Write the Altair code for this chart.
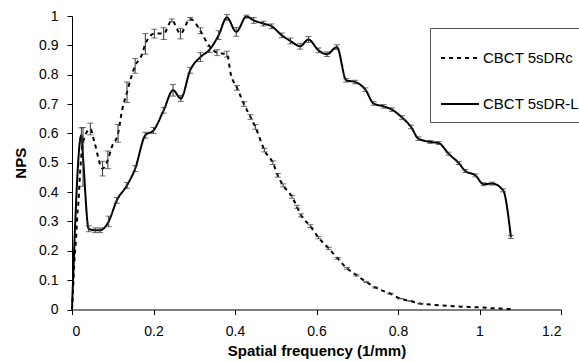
import altair as alt
import pandas as pd

# CBCT 5sDRc (dashed)
drc_f = [0, 0.003, 0.006, 0.01, 0.013, 0.016, 0.02, 0.028, 0.045, 0.055, 0.075, 0.088, 0.098,
         0.113, 0.123, 0.135, 0.145, 0.155, 0.172, 0.18, 0.202, 0.225, 0.245, 0.266, 0.29,
         0.315, 0.331, 0.356, 0.38, 0.39, 0.405, 0.422, 0.438, 0.45, 0.462, 0.472, 0.493,
         0.505, 0.518, 0.54, 0.552, 0.562, 0.585, 0.605, 0.63, 0.652, 0.675, 0.698, 0.722,
         0.744, 0.781, 0.806, 0.83, 0.855, 0.879, 0.904, 0.936, 0.969, 1.002, 1.035, 1.067, 1.08]
drc_v = [0, 0.08, 0.17, 0.24, 0.32, 0.37, 0.47, 0.575, 0.615, 0.57, 0.48, 0.51, 0.555,
         0.60, 0.68, 0.74, 0.79, 0.83, 0.87, 0.905, 0.94, 0.94, 0.985, 0.94, 0.99,
         0.95, 0.91, 0.875, 0.87, 0.80, 0.755, 0.70, 0.656, 0.622, 0.579, 0.543, 0.50,
         0.457, 0.423, 0.384, 0.35, 0.321, 0.284, 0.245, 0.208, 0.174, 0.14, 0.117, 0.094,
         0.075, 0.054, 0.037, 0.029, 0.02, 0.017, 0.014, 0.011, 0.009, 0.007, 0.004, 0.002, 0.001]
drc_err = [0, 0, 0, 0, 0, 0, 0, 0, 0.02, 0, 0.025, 0.03, 0,
           0.03, 0, 0.035, 0, 0.025, 0, 0.035, 0.015, 0.02, 0.005, 0.018, 0.005,
           0.01, 0, 0.01, 0.01, 0, 0.008, 0.008, 0.008, 0.008, 0, 0.006, 0.006,
           0.006, 0.005, 0.005, 0.005, 0.005, 0.005, 0.004, 0.004, 0.003, 0.003, 0.003, 0.002,
           0.002, 0.002, 0.001, 0.001, 0.001, 0, 0, 0, 0, 0, 0, 0, 0]

# CBCT 5sDR-L (solid)
drl_f = [0, 0.023, 0.027, 0.041, 0.057, 0.069, 0.09, 0.11, 0.135, 0.155, 0.18, 0.20, 0.225,
         0.248, 0.267, 0.29, 0.315, 0.338, 0.36, 0.38, 0.403, 0.428, 0.446, 0.47, 0.49,
         0.515, 0.536, 0.56, 0.58, 0.605, 0.626, 0.65, 0.673, 0.695, 0.72, 0.74, 0.765,
         0.785, 0.81, 0.832, 0.85, 0.879, 0.90, 0.924, 0.949, 0.965, 0.99, 1.01, 1.031,
         1.058, 1.077]
drl_v = [0, 0.594, 0.52, 0.275, 0.27, 0.27, 0.30, 0.372, 0.423, 0.48, 0.594, 0.61, 0.679,
         0.747, 0.719, 0.815, 0.86, 0.886, 0.935, 0.995, 0.946, 0.998, 0.985, 0.974, 0.965,
         0.934, 0.915, 0.897, 0.92, 0.883, 0.87, 0.894, 0.781, 0.775, 0.749, 0.702, 0.692,
         0.681, 0.654, 0.622, 0.582, 0.571, 0.567, 0.531, 0.499, 0.472, 0.457, 0.427, 0.429,
         0.406, 0.247]
drl_err = [0, 0.025, 0.1, 0.01, 0.008, 0.008, 0.018, 0.01, 0.01, 0.01, 0.01, 0.01, 0.01,
           0.02, 0.01, 0.01, 0.015, 0.01, 0.015, 0.01, 0.015, 0.005, 0.01, 0.008, 0.008,
           0.008, 0.01, 0.01, 0.01, 0.008, 0.008, 0.008, 0.006, 0.006, 0.006, 0.006, 0.006,
           0.006, 0.006, 0.006, 0.006, 0.005, 0.005, 0.005, 0.005, 0.005, 0.005, 0.005, 0.005,
           0.005, 0.005]

series = ["CBCT 5sDRc", "CBCT 5sDR-L"]
x_ticks = [0, 0.2, 0.4, 0.6, 0.8, 1.0, 1.2]
y_ticks = [0, 0.1, 0.2, 0.3, 0.4, 0.5, 0.6, 0.7, 0.8, 0.9, 1.0]

rows = []
for f, v, e in zip(drc_f, drc_v, drc_err):
    rows.append({"f": f, "v": v, "err": e, "series": series[0]})
for f, v, e in zip(drl_f, drl_v, drl_err):
    rows.append({"f": f, "v": v, "err": e, "series": series[1]})
df = pd.DataFrame(rows)
df["lo"] = df["v"] - df["err"]
df["hi"] = df["v"] + df["err"]
eb = df[df["err"] > 0]

FONT = "Liberation Sans"

xscale = alt.Scale(domain=[0, 1.2], nice=False, zero=False)
yscale = alt.Scale(domain=[0, 1], nice=False)

xenc = alt.X("f:Q", scale=xscale, axis=alt.Axis(values=x_ticks, format="~g",
             labelOverlap=False, title="Spatial frequency (1/mm)"))
yenc = alt.Y("v:Q", scale=yscale, axis=alt.Axis(values=y_ticks, format="~g", tickCount=11,
             labelOverlap=False, labelSeparation=0, title="NPS"))

lines = alt.Chart(df).mark_line(strokeWidth=2, color="black", interpolate="monotone").encode(
    x=xenc,
    y=yenc,
    strokeDash=alt.StrokeDash(
        "series:N",
        scale=alt.Scale(domain=series, range=[[4, 4], [1, 0]]),
        legend=alt.Legend(
            title=None, orient="none", legendX=358, legendY=12,
            strokeColor="#555", fillColor="white", padding=10,
            symbolType="stroke", symbolSize=1444, symbolStrokeWidth=2,
            symbolStrokeColor="black", labelFontSize=15, labelFont=FONT,
            labelColor="black", labelOffset=3, rowPadding=18,
        ),
    ),
)

rules = alt.Chart(eb).mark_rule(strokeWidth=1, color="#333").encode(
    x=alt.X("f:Q", scale=xscale), y=alt.Y("lo:Q", scale=yscale), y2="hi:Q"
)
caps_lo = alt.Chart(eb).mark_tick(size=6, thickness=1, color="#333", orient="horizontal").encode(
    x=alt.X("f:Q", scale=xscale), y=alt.Y("lo:Q", scale=yscale)
)
caps_hi = alt.Chart(eb).mark_tick(size=6, thickness=1, color="#333", orient="horizontal").encode(
    x=alt.X("f:Q", scale=xscale), y=alt.Y("hi:Q", scale=yscale)
)

chart = alt.layer(lines, rules, caps_lo, caps_hi).properties(
    width=489, height=293.5,
    autosize=alt.AutoSizeParams(type="none"),
    padding={"left": 72, "top": 16, "right": 18, "bottom": 53},
).configure_view(stroke=None).configure_axis(
    grid=False, domainColor="black", tickColor="black", tickSize=5,
    labelFont=FONT, labelFontSize=14, labelColor="black",
    titleFont=FONT, titleFontSize=15, titleFontWeight="bold", titleColor="black",
).configure_axisX(labelPadding=10, titlePadding=5).configure_axisY(labelPadding=9, titlePadding=10)

chart.save("out.html", embed_options={"renderer": "svg", "actions": False})
